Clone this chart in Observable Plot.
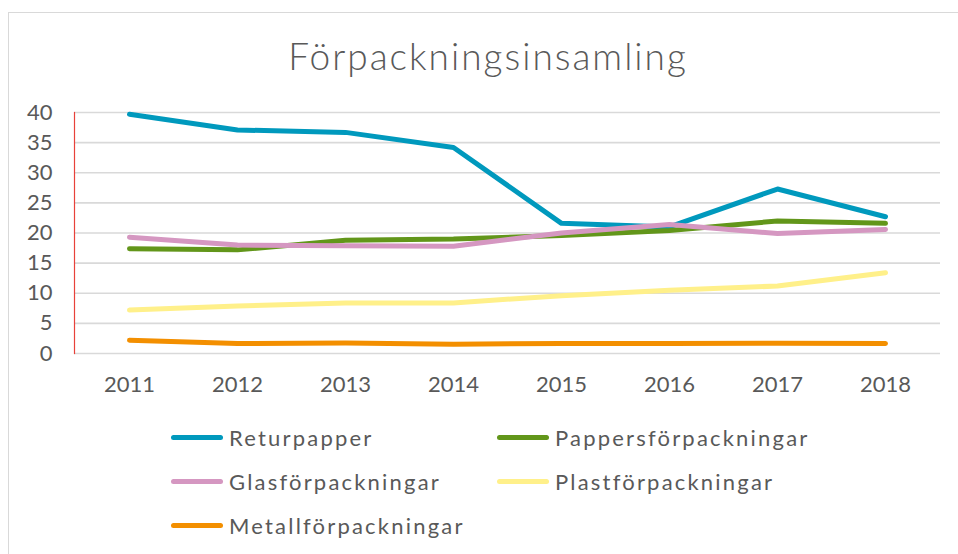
<!DOCTYPE html>
<html>
<head>
<meta charset="utf-8">
<script src="https://cdn.jsdelivr.net/npm/d3@7"></script>
<script src="https://cdn.jsdelivr.net/npm/@observablehq/plot@0.6"></script>
<style>
  html, body { margin: 0; padding: 0; background: #fff; }
  #wrap { position: relative; width: 958px; height: 554px; overflow: hidden; font-family: Lato, "DejaVu Sans", sans-serif; color: #595959; }
  #border { position: absolute; left: 8px; top: 12px; right: -2px; bottom: -2px; border-left: 1.5px solid #d9d9d9; border-top: 1.5px solid #d9d9d9; }
  #title { position: absolute; left: 0; width: 976px; top: 33px; text-align: center; font-size: 37px; font-weight: 300; letter-spacing: 2px; color: #595959; }
  #chart { position: absolute; left: 0; top: 0; }
  #legend { position: absolute; left: 0; top: 0; width: 958px; height: 554px; }
  .item { position: absolute; display: flex; align-items: center; font-size: 22px; letter-spacing: 2.2px; color: #595959; white-space: nowrap; }
  .sw { width: 52px; height: 5px; border-radius: 3px; margin-right: 6px; }
</style>
</head>
<body>
<div id="wrap">
  <div id="border"></div>
  <div id="title">Förpackningsinsamling</div>
  <div id="chart"></div>
  <div id="legend"></div>
</div>
<script>
const years = ["2011", "2012", "2013", "2014", "2015", "2016", "2017", "2018"];
const seriesNames = ["Returpapper", "Pappersförpackningar", "Glasförpackningar", "Plastförpackningar", "Metallförpackningar"];
const seriesColors = ["#0099BD", "#62961A", "#D597C1", "#FFF08A", "#F38F00"];
const returpapper = [39.7, 37.1, 36.7, 34.2, 21.6, 21.0, 27.3, 22.7];
const pappersforpackningar = [17.4, 17.2, 18.8, 19.0, 19.6, 20.4, 22.0, 21.6];
const glasforpackningar = [19.3, 18.0, 17.9, 17.8, 20.0, 21.4, 19.9, 20.6];
const plastforpackningar = [7.2, 7.9, 8.4, 8.4, 9.6, 10.5, 11.2, 13.4];
const metallforpackningar = [2.2, 1.65, 1.75, 1.55, 1.65, 1.65, 1.7, 1.65];
const yTicks = [0, 5, 10, 15, 20, 25, 30, 35, 40];

const seriesValues = [returpapper, pappersforpackningar, glasforpackningar, plastforpackningar, metallforpackningar];
const data = [];
seriesNames.forEach((name, si) => {
  years.forEach((yr, i) => data.push({series: name, year: yr, value: seriesValues[si][i]}));
});

const chart = Plot.plot({
  width: 958,
  height: 400,
  marginLeft: 74,
  marginRight: 18,
  marginTop: 112,
  marginBottom: 47,
  style: {fontFamily: "Lato, 'DejaVu Sans', sans-serif", fontSize: "22px", color: "#595959", background: "transparent", overflow: "visible"},
  x: {type: "point", domain: years, padding: 0.5, label: null},
  y: {domain: [0, 40], ticks: yTicks, label: null},
  color: {domain: seriesNames, range: seriesColors},
  marks: [
    Plot.gridY(yTicks, {stroke: "#d9d9d9", strokeOpacity: 1, strokeWidth: 1.6}),
    Plot.frame({anchor: "left", stroke: "#e8413a", strokeWidth: 1.2}),
    Plot.axisY(yTicks, {tickSize: 0, tickPadding: 22, fill: "#595959", fontSize: 22, label: null}),
    Plot.axisX({tickSize: 0, tickPadding: 23, fill: "#595959", fontSize: 22, label: null}),
    Plot.line(data, {x: "year", y: "value", z: "series", stroke: "series", strokeWidth: 5, strokeLinecap: "round", strokeLinejoin: "round"})
  ]
});
document.getElementById("chart").appendChild(chart);

// legend
const legend = document.getElementById("legend");
const cols = [171, 497];
const rows = [437, 481, 525];
seriesNames.forEach((name, i) => {
  const d = document.createElement("div");
  d.className = "item";
  d.style.left = cols[i % 2] + "px";
  d.style.top = (rows[Math.floor(i / 2)] - 14) + "px";
  d.style.height = "28px";
  const sw = document.createElement("div");
  sw.className = "sw";
  sw.style.background = seriesColors[i];
  const t = document.createElement("span");
  t.textContent = name;
  d.appendChild(sw);
  d.appendChild(t);
  legend.appendChild(d);
});
</script>
</body>
</html>
